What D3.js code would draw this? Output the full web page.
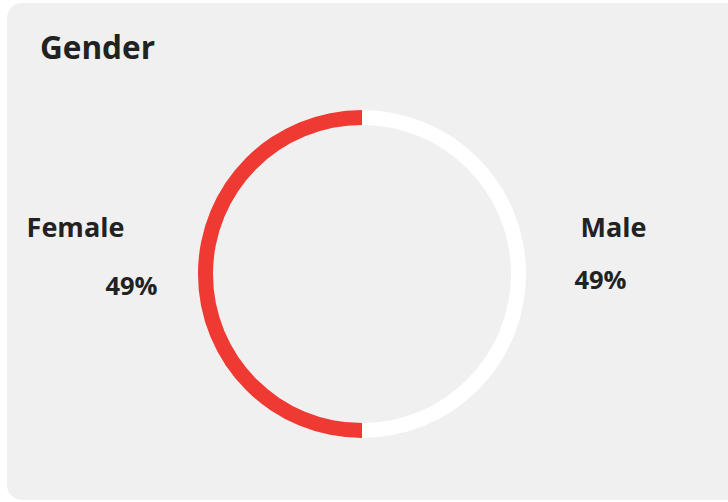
<!DOCTYPE html>
<html>
<head>
<meta charset="utf-8">
<script src="https://cdn.jsdelivr.net/npm/d3@7"></script>
<style>
  html, body { margin: 0; padding: 0; background: #ffffff; }
  svg { display: block; font-family: "Open Sans", "Noto Sans", sans-serif; }
</style>
</head>
<body>
<div id="chart"></div>
<script>
const categories = ['Female', 'Male'];
const values = [49, 49];
const percentLabels = ['49%', '49%'];
const colors = ['#ef3a33', '#ffffff'];

const width = 728;
const height = 502;

const svg = d3.select('#chart').append('svg')
  .attr('width', width)
  .attr('height', height);

// card background
svg.append('rect')
  .attr('x', 7).attr('y', 3)
  .attr('width', 750).attr('height', 497)
  .attr('rx', 15).attr('ry', 15)
  .attr('fill', '#f0f0f0');

svg.append('text')
  .attr('x', 40).attr('y', 59)
  .attr('font-size', 31.5).attr('font-weight', 700)
  .attr('fill', '#222')
  .text('Gender');

const cx = 362, cy = 274;
const outerRadius = 164;
const innerRadius = 149;

const g = svg.append('g').attr('transform', 'translate(' + cx + ',' + cy + ')');

const color = d3.scaleOrdinal().domain(categories).range(colors);

const pie = d3.pie()
  .sort(null)
  .startAngle(Math.PI)
  .endAngle(3 * Math.PI)
  .value(d => d.value);

const arcs = pie(categories.map((c, i) => ({ name: c, value: values[i] })));

const arc = d3.arc()
  .innerRadius(innerRadius)
  .outerRadius(outerRadius);

g.selectAll('path')
  .data(arcs)
  .enter()
  .append('path')
  .attr('fill', d => color(d.data.name))
  .attr('d', arc);

// labels
const labelPos = [
  { name: [75.5, 237], pct: [131.5, 295] },
  { name: [613.5, 237], pct: [600.5, 289] }
];

categories.forEach((c, i) => {
  svg.append('text')
    .attr('x', labelPos[i].name[0]).attr('y', labelPos[i].name[1])
    .attr('text-anchor', 'middle')
    .attr('font-size', 27).attr('font-weight', 700)
    .attr('fill', '#222')
    .text(c);
  svg.append('text')
    .attr('x', labelPos[i].pct[0]).attr('y', labelPos[i].pct[1])
    .attr('text-anchor', 'middle')
    .attr('font-size', 25.5).attr('font-weight', 700)
    .attr('fill', '#222')
    .text(percentLabels[i]);
});
</script>
</body>
</html>
